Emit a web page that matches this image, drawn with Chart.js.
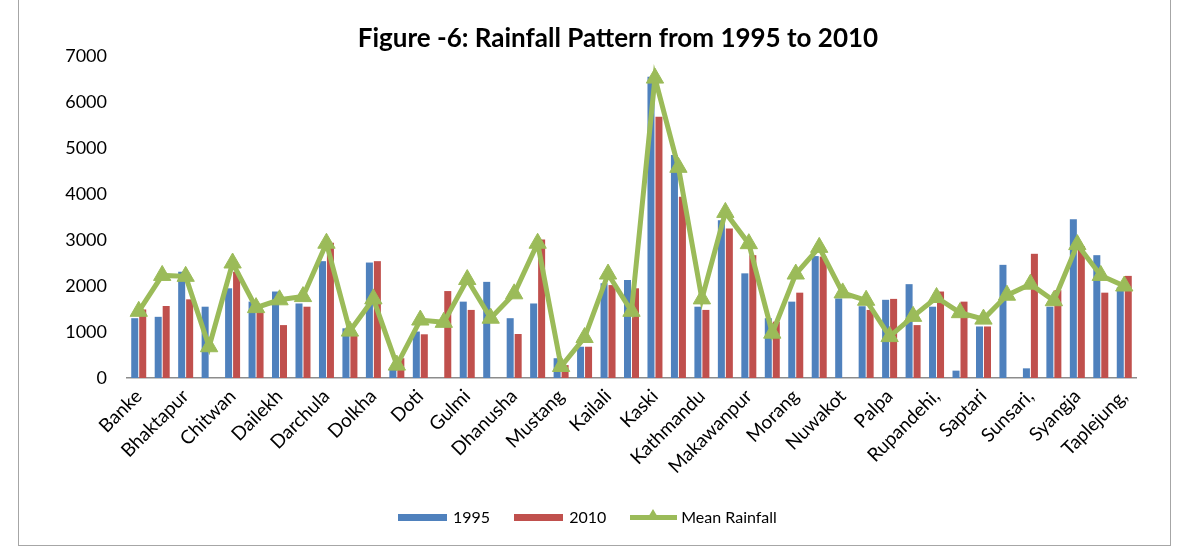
<!DOCTYPE html>
<html>
<head>
<meta charset="utf-8">
<title>Rainfall Pattern 1995–2010</title>
<script src="https://cdn.jsdelivr.net/npm/chart.js@4.4.0/dist/chart.umd.min.js"></script>
<style>
  html, body { margin: 0; padding: 0; background: #fff; }
  #wrap { position: relative; width: 1183px; height: 552px; overflow: hidden; font-family: Lato, "Open Sans", sans-serif; }
  #frame { position: absolute; left: 18px; top: -2px; width: 1153px; height: 548px; border: 1px solid #a6a6a6; box-sizing: border-box; pointer-events: none; }
  #chart { position: absolute; left: 0; top: 0; }
  #title { position: absolute; left: 0; top: 21px; width: 1236px; text-align: center; font-weight: bold; font-size: 26px; line-height: 32px; color: #000; }
  #legend { position: absolute; left: 398px; top: 509px; display: flex; align-items: center; font-size: 16px; color: #000; line-height: 16px; }
  .item { display: flex; align-items: center; margin-right: 24px; }
  .swatch { width: 49px; height: 7px; margin-right: 6px; }
  .lineSw { position: relative; width: 47px; height: 5px; margin-right: 4px; }
  .tri { position: absolute; left: 17px; top: -6px; width: 0; height: 0;
         border-left: 6px solid transparent; border-right: 6px solid transparent; border-bottom: 10px solid; }
</style>
</head>
<body>
<div id="wrap">
  <canvas id="chart" width="1183" height="552"></canvas>
  <div id="title">Figure -6: Rainfall Pattern from 1995 to 2010</div>
  <div id="legend"></div>
  <div id="frame"></div>
</div>
<script>
// District names along the category axis (every second one is unnamed in the figure)
const districts = [
  'Banke', '', 'Bhaktapur', '', 'Chitwan', '', 'Dailekh', '', 'Darchula', '',
  'Dolkha', '', 'Doti', '', 'Gulmi', '', 'Dhanusha', '', 'Mustang', '',
  'Kailali', '', 'Kaski', '', 'Kathmandu', '', 'Makawanpur', '', 'Morang', '',
  'Nuwakot', '', 'Palpa', '', 'Rupandehi,', '', 'Saptari', '', 'Sunsari,', '',
  'Syangja', '', 'Taplejung,'
];

// Annual rainfall (mm), 1995
const rain1995 = [
  1300, 1330, 2310, 1550, 1950, 1660, 1880, 1620, 2540, 1080,
  2510, 200, 1010, null, 1660, 2090, 1300, 1620, 430, 680,
  2060, 2130, 6550, 4850, 1550, 3430, 2275, 1300, 1660, 2650,
  1730, 1560, 1700, 2040, 1550, 160, 1120, 2460, 210, 1550,
  3450, 2670, 1970
];

// Annual rainfall (mm), 2010
const rain2010 = [
  1490, 1565, 1710, null, 2310, 1480, 1150, 1550, 2940, 935,
  2540, 430, 950, 1890, 1480, null, 956, 3010, 280, 680,
  2020, 1950, 5680, 3940, 1480, 3250, 2670, 1225, 1855, 2640,
  null, 1480, 1720, 1150, 1880, 1660, 1120, null, 2700, 1910,
  2870, 1855, 2220
];

// Mean rainfall (mm)
const meanRain = [
  1450, 2230, 2210, 680, 2500, 1530, 1700, 1770, 2930, 1020,
  1720, 280, 1260, 1210, 2140, 1300, 1830, 2930, 250, 880,
  2260, 1450, 6520, 4580, 1720, 3600, 2920, 975, 2260, 2840,
  1850, 1690, 900, 1340, 1750, 1420, 1280, 1800, 2040, 1680,
  2900, 2230, 2000
];

// Value axis ticks
const yTicks = [0, 1000, 2000, 3000, 4000, 5000, 6000, 7000];

const BLUE = '#4F81BD';
const RED = '#C0504D';
const GREEN = '#9BBB59';
const FONT = 'Lato, "Open Sans", sans-serif';

const chart = new Chart(document.getElementById('chart'), {
  data: {
    labels: districts,
    datasets: [
      {
        type: 'bar', label: '1995', data: rain1995,
        backgroundColor: BLUE, order: 2,
        categoryPercentage: 0.68, barPercentage: 0.88
      },
      {
        type: 'bar', label: '2010', data: rain2010,
        backgroundColor: RED, order: 2,
        categoryPercentage: 0.68, barPercentage: 0.88
      },
      {
        type: 'line', label: 'Mean Rainfall', data: meanRain,
        borderColor: GREEN, backgroundColor: GREEN, borderWidth: 5,
        tension: 0, fill: false, order: 0,
        pointStyle: 'triangle', pointRadius: 10, pointBorderWidth: 1,
        pointBackgroundColor: GREEN, pointBorderColor: GREEN
      }
    ]
  },
  options: {
    responsive: false,
    animation: false,
    devicePixelRatio: 1,
    layout: { padding: { left: 60, right: 47, top: 56, bottom: 54 } },
    plugins: {
      legend: { display: false },
      tooltip: { enabled: false },
      title: { display: false }
    },
    scales: {
      x: {
        offset: true,
        grid: { display: false, drawTicks: false },
        border: { display: true, color: '#8c8c8c', width: 1.5 },
        ticks: {
          autoSkip: false, maxRotation: 45, minRotation: 45,
          color: '#000', padding: 7,
          font: { family: FONT, size: 19 }
        },
        afterFit(scale) { scale.height = 120; }
      },
      y: {
        min: yTicks[0],
        max: yTicks[yTicks.length - 1],
        grid: { display: false, drawTicks: false },
        border: { display: false },
        afterBuildTicks(scale) { scale.ticks = yTicks.map(v => ({ value: v })); },
        ticks: {
          color: '#000', padding: 20,
          font: { family: FONT, size: 18 },
          callback: v => String(v)
        },
        afterFit(scale) { scale.width = 67; }
      }
    }
  }
});

// Legend built from the chart's datasets
const legendEl = document.getElementById('legend');
chart.data.datasets.forEach(ds => {
  const item = document.createElement('div');
  item.className = 'item';
  if (ds.type === 'line') {
    const sw = document.createElement('div');
    sw.className = 'lineSw';
    sw.style.background = ds.borderColor;
    const tri = document.createElement('div');
    tri.className = 'tri';
    tri.style.borderBottomColor = ds.borderColor;
    sw.appendChild(tri);
    item.appendChild(sw);
  } else {
    const sw = document.createElement('div');
    sw.className = 'swatch';
    sw.style.background = ds.backgroundColor;
    item.appendChild(sw);
  }
  const txt = document.createElement('span');
  txt.textContent = ds.label;
  item.appendChild(txt);
  legendEl.appendChild(item);
});
</script>
</body>
</html>
